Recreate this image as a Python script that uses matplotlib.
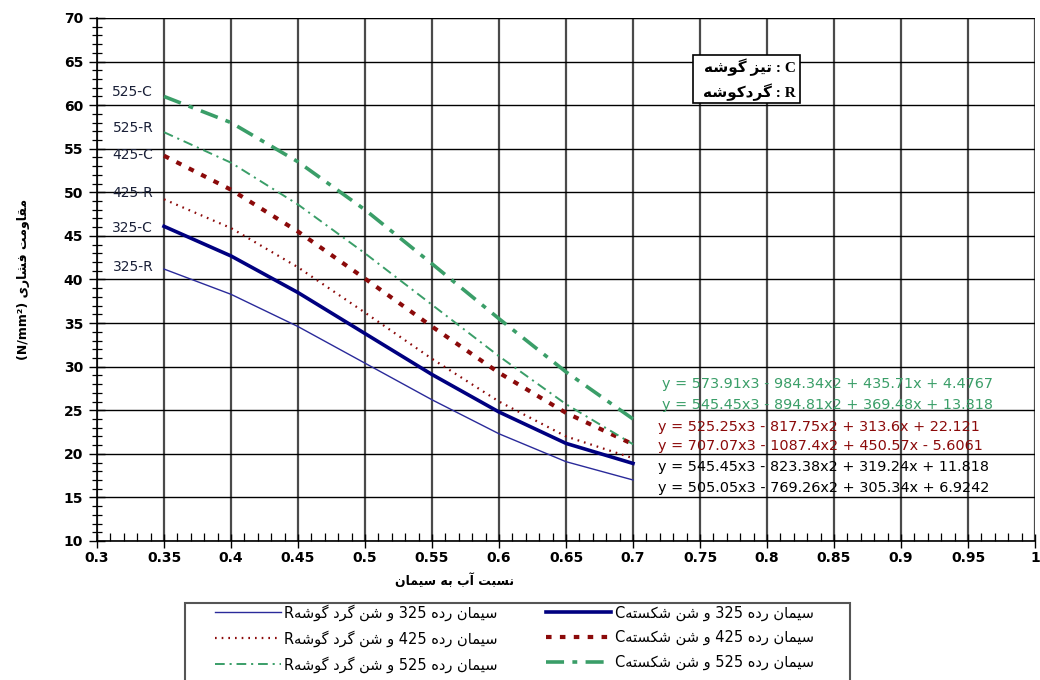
import re
import matplotlib
matplotlib.use('Agg')
import matplotlib.pyplot as plt
from matplotlib.ticker import MultipleLocator, FuncFormatter
from matplotlib.patches import Rectangle

plt.rcParams['font.family'] = ['DejaVu Sans']
plt.rcParams['lines.scale_dashes'] = False

# ---------------- data ----------------
wc_ratio = [0.35, 0.40, 0.45, 0.50, 0.55, 0.60, 0.65, 0.70]
s325R = [41.2, 38.3, 34.6, 30.4, 26.2, 22.3, 19.1, 17.0]
s325C = [46.1, 42.7, 38.5, 33.8, 29.1, 24.8, 21.2, 18.9]
s425R = [49.2, 45.9, 41.4, 36.2, 30.9, 26.0, 22.0, 19.5]
s425C = [54.2, 50.3, 45.5, 40.1, 34.6, 29.3, 24.7, 21.1]
s525R = [56.9, 53.4, 48.6, 43.0, 37.1, 31.2, 25.7, 21.1]
s525C = [61.0, 58.0, 53.5, 48.0, 41.8, 35.5, 29.4, 24.0]

series_names = ['325-R', '325-C', '425-R', '425-C', '525-R', '525-C']
legend_texts = [
    'سیمان رده 325 و شن گرد گوشهR',
    'سیمان رده 325 و شن شکستهC',
    'سیمان رده 425 و شن گرد گوشهR',
    'سیمان رده 425 و شن شکستهC',
    'سیمان رده 525 و شن گرد گوشهR',
    'سیمان رده 525 و شن شکستهC',
]
label_y = [41.4, 45.9, 49.9, 54.3, 57.4, 61.5]

equations = [
    'y = 573.91x3 - 984.34x2 + 435.71x + 4.4767',
    'y = 545.45x3 - 894.81x2 + 369.48x + 13.818',
    'y = 525.25x3 - 817.75x2 + 313.6x + 22.121',
    'y = 707.07x3 - 1087.4x2 + 450.57x - 5.6061',
    'y = 545.45x3 - 823.38x2 + 319.24x + 11.818',
    'y = 505.05x3 - 769.26x2 + 305.34x + 6.9242',
]
eq_y = [28.0, 25.6, 23.1, 20.9, 18.5, 16.1]

x_label = 'نسبت آب به سیمان'
y_label = 'مقاومت فشاری (N/mm²)'
box_lines = ['C : تیز گوشه', 'R : گردکوشه']

# ---------------- Persian shaping (presentation forms + RTL order) ----------------
FORMS = {
    '\u0627': ('\uFE8D', '\uFE8E', None, None),
    '\u0622': ('\uFE81', '\uFE82', None, None),
    '\u0628': ('\uFE8F', '\uFE90', '\uFE91', '\uFE92'),
    '\u062A': ('\uFE95', '\uFE96', '\uFE97', '\uFE98'),
    '\u062F': ('\uFEA9', '\uFEAA', None, None),
    '\u0631': ('\uFEAD', '\uFEAE', None, None),
    '\u0632': ('\uFEAF', '\uFEB0', None, None),
    '\u0633': ('\uFEB1', '\uFEB2', '\uFEB3', '\uFEB4'),
    '\u0634': ('\uFEB5', '\uFEB6', '\uFEB7', '\uFEB8'),
    '\u0641': ('\uFED1', '\uFED2', '\uFED3', '\uFED4'),
    '\u0642': ('\uFED5', '\uFED6', '\uFED7', '\uFED8'),
    '\u06A9': ('\uFB8E', '\uFB8F', '\uFB90', '\uFB91'),
    '\u06AF': ('\uFB92', '\uFB93', '\uFB94', '\uFB95'),
    '\u0644': ('\uFEDD', '\uFEDE', '\uFEDF', '\uFEE0'),
    '\u0645': ('\uFEE1', '\uFEE2', '\uFEE3', '\uFEE4'),
    '\u0646': ('\uFEE5', '\uFEE6', '\uFEE7', '\uFEE8'),
    '\u0647': ('\uFEE9', '\uFEEA', '\uFEEB', '\uFEEC'),
    '\u0648': ('\uFEED', '\uFEEE', None, None),
    '\u06CC': ('\uFBFC', '\uFBFD', '\uFBFE', '\uFBFF'),
}


def shape(s):
    out = []
    n = len(s)
    for i, ch in enumerate(s):
        if ch not in FORMS:
            out.append(ch)
            continue
        f = FORMS[ch]
        prev = s[i - 1] if i > 0 else ''
        nxt = s[i + 1] if i + 1 < n else ''
        jp = prev in FORMS and FORMS[prev][2] is not None
        jn = f[2] is not None and nxt in FORMS
        if jp and jn:
            out.append(f[3])
        elif jp:
            out.append(f[1])
        elif jn:
            out.append(f[2])
        else:
            out.append(f[0])
    return ''.join(out)


LTR = r'A-Za-z0-9/()²'


def rtl(s):
    sh = shape(s)
    runs = re.findall(r'[' + LTR + r']+|[^' + LTR + r']+', sh)
    vis = []
    for r in reversed(runs):
        if re.match(r'[' + LTR + r']', r):
            vis.append(r)
        else:
            vis.append(r[::-1])
    return ''.join(vis)


# ---------------- figure ----------------
fig = plt.figure(figsize=(10.4, 6.8), dpi=100)
ax = fig.add_axes([97 / 1040, 1 - 541 / 680, 938 / 1040, 523 / 680])

navy = '#000080'
navy_thin = '#2a2a9a'
red = '#8b0a0a'
green = '#3a9e68'

styles = {
    '325-R': dict(color=navy_thin, lw=1.0, ls='-'),
    '325-C': dict(color=navy, lw=2.6, ls='-'),
    '425-R': dict(color=red, lw=1.6, ls=(0, (1.2, 3.6))),
    '425-C': dict(color=red, lw=3.0, ls=(0, (4.0, 6.0))),
    '525-R': dict(color=green, lw=1.4, ls=(0, (7, 3.5, 1.5, 3.5))),
    '525-C': dict(color=green, lw=2.6, ls=(0, (13, 6, 3.5, 6))),
}
data = {'325-R': s325R, '325-C': s325C, '425-R': s425R,
        '425-C': s425C, '525-R': s525R, '525-C': s525C}

handles = {}
for name, lt in zip(series_names, legend_texts):
    st = styles[name]
    h, = ax.plot(wc_ratio, data[name], color=st['color'], lw=st['lw'],
                 linestyle=st['ls'], label=rtl(lt), zorder=3)
    handles[name] = h

# line name labels at left
for name, yv in zip(series_names, label_y):
    ax.text(0.342, yv, name, ha='right', va='center', fontsize=10,
            color='#1a2038', zorder=4)

# equations
eq_colors = [green, green, red, red, 'black', 'black']
eq_x = [0.7215, 0.7215, 0.7185, 0.7185, 0.7185, 0.7185]
for t, yv, c, xv in zip(equations, eq_y, eq_colors, eq_x):
    ax.text(xv, yv, t, ha='left', va='center', fontsize=10.4, color=c, zorder=4)

# axes settings
ax.set_xlim(0.3, 1.0)
ax.set_ylim(10, 70)
ax.xaxis.set_major_locator(MultipleLocator(0.05))
ax.xaxis.set_minor_locator(MultipleLocator(0.01))
ax.yaxis.set_major_locator(MultipleLocator(5))
ax.yaxis.set_minor_locator(MultipleLocator(1))
ax.xaxis.set_major_formatter(FuncFormatter(lambda v, p: f'{v:.2f}'.rstrip('0').rstrip('.') if v < 0.999 else '1'))
ax.yaxis.set_major_formatter(FuncFormatter(lambda v, p: f'{v:g}'))

ax.grid(axis='x', which='major', color='#4a4a4a', lw=1.6, zorder=1)
ax.grid(axis='y', which='major', color='black', lw=1.0, zorder=1)

for sp in ['top', 'right']:
    ax.spines[sp].set_visible(False)
ax.spines['left'].set_color('black')
ax.spines['bottom'].set_color('black')
ax.spines['left'].set_linewidth(1.2)
ax.spines['bottom'].set_linewidth(1.2)

ax.tick_params(axis='y', which='major', direction='inout', length=12, width=1.0,
               labelsize=10, pad=4)
ax.tick_params(axis='y', which='minor', direction='inout', length=7, width=0.9)
ax.tick_params(axis='x', which='major', direction='inout', length=10, width=1.0,
               labelsize=10, pad=2)
ax.tick_params(axis='x', which='minor', direction='in', length=6, width=0.9)
for lab in ax.get_xticklabels() + ax.get_yticklabels():
    lab.set_fontweight('bold')

# top gray border line
ax.axhline(70, color='#808080', lw=1.6, zorder=1)

# y label
ax.set_ylabel(rtl(y_label), fontsize=9, fontweight='bold', labelpad=24)

# x label
fig.text(455 / 1040, 1 - 581 / 680, rtl(x_label), ha='center', va='center',
         fontsize=9, fontweight='bold')

# inset box with C / R meanings
ax.add_patch(Rectangle((0.635, 0.837), 0.114, 0.092, transform=ax.transAxes,
                       facecolor='white', edgecolor='black', lw=1.2, zorder=5))
ax.text(0.745, 0.905, rtl(box_lines[0]), transform=ax.transAxes, ha='right',
        va='center', fontsize=11, fontweight='bold', zorder=6,
        family=['Liberation Serif', 'DejaVu Sans'])
ax.text(0.745, 0.858, rtl(box_lines[1]), transform=ax.transAxes, ha='right',
        va='center', fontsize=11, fontweight='bold', zorder=6,
        family=['Liberation Serif', 'DejaVu Sans'])

# legend frame (extends past the bottom edge, as in the reference)
fig.patches.append(Rectangle((185 / 1040, -0.05), (850 - 185) / 1040,
                             0.05 + (680 - 603) / 680,
                             transform=fig.transFigure, facecolor='white',
                             edgecolor='#555555', lw=1.5, zorder=0))

# legend (R entries left column, C entries right column)
order = ['325-R', '425-R', '525-R', '325-C', '425-C', '525-C']
leg = fig.legend([handles[k] for k in order],
                 [handles[k].get_label() for k in order],
                 ncol=2, loc='upper left',
                 bbox_to_anchor=(212 / 1040, 1 - 601 / 680),
                 fontsize=10.5, frameon=False,
                 handlelength=4.5, handletextpad=0.25,
                 columnspacing=3.3, labelspacing=0.65, borderpad=0.2,
                 borderaxespad=0)

fig.savefig('out.png', dpi=100)
